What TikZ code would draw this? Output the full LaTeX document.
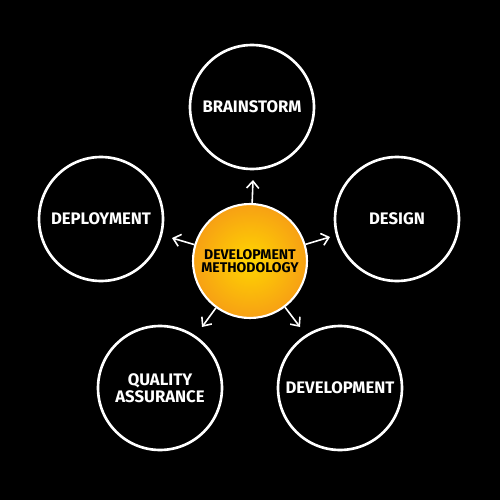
\documentclass[tikz,border=0pt]{standalone}
\usepackage{fontspec}
\setsansfont{Fira Sans}
\usetikzlibrary{arrows.meta}

\begin{document}
\begin{tikzpicture}[x=0.02cm, y=-0.02cm,
  topic/.style={circle, draw=white, line width=1.5pt, minimum size=2.48cm, inner sep=0pt,
    text=white, align=center, font=\sffamily\bfseries\fontsize{9.5}{11}\selectfont},
  hub/.style={circle, draw=white, line width=1.2pt, minimum size=2.28cm, inner sep=0pt,
    inner color={rgb,255:red,255;green,214;blue,0}, outer color={rgb,255:red,247;green,160;blue,20},
    text=black, align=center, font=\sffamily\bfseries\fontsize{8}{7.5}\selectfont},
  link/.style={white, line width=0.9pt, -{Straight Barb[length=4pt,width=7pt]}}]
  \fill[black] (0,0) rectangle (500,500);
  \useasboundingbox (0,0) rectangle (500,500);

  \node[hub] (m) at (250,261) {DEVELOPMENT\\METHODOLOGY};

  \node[topic] (brain) at (252,107) {BRAINSTORM};
  \node[topic] (design) at (397,219) {DESIGN};
  \node[topic] (devel) at (340,388) {DEVELOPMENT};
  \node[topic] (qa) at (160,388) {QUALITY\\[-1pt]ASSURANCE};
  \node[topic] (deploy) at (101,219) {DEPLOYMENT};

  \coordinate (t-brain) at (253,180);
  \coordinate (t-design) at (330,237);
  \coordinate (t-devel) at (300,327);
  \coordinate (t-qa) at (202,327);
  \coordinate (t-deploy) at (172,238);

  \draw[link] (m) -- (t-brain);
  \draw[link] (m) -- (t-design);
  \draw[link] (m) -- (t-devel);
  \draw[link] (m) -- (t-qa);
  \draw[link] (m) -- (t-deploy);
\end{tikzpicture}
\end{document}
